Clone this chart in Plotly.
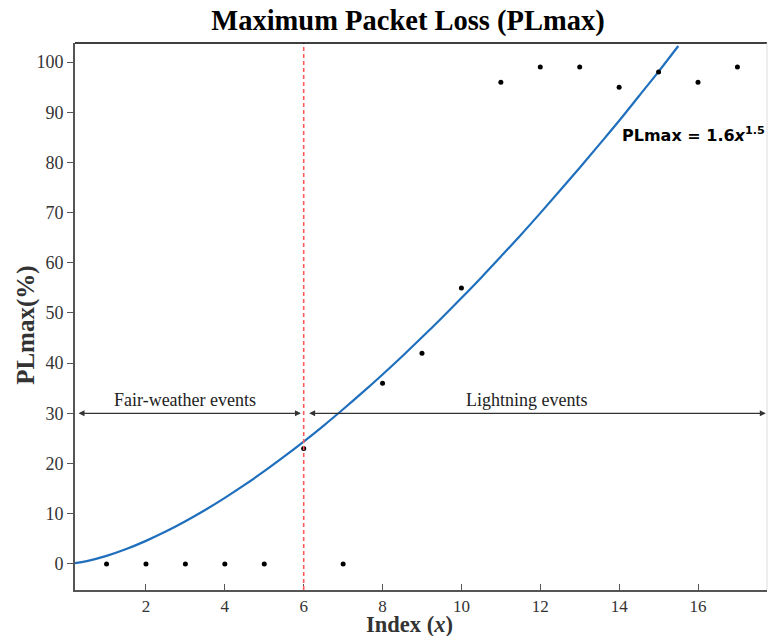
import plotly.graph_objects as go

# Measured data points
idx = [1, 2, 3, 4, 5, 6, 7, 8, 9, 10, 11, 12, 13, 14, 15, 16, 17]
plmax = [0, 0, 0, 0, 0, 23, 0, 36, 42, 55, 96, 99, 99, 95, 98, 96, 99]

# Fitted curve
fit_x = [0.2, 0.5, 1, 1.5, 2, 2.5, 3, 3.5, 4, 4.5, 5, 5.5, 6, 6.5, 7, 7.5, 8,
         8.5, 9, 9.5, 10, 10.5, 11, 11.5, 12, 12.5, 13, 13.5, 14, 14.5, 15, 15.5]
fit_y = [0.14, 0.56, 1.6, 2.96, 4.59, 6.44, 8.5, 10.74, 13.16, 15.74, 18.47,
         21.36, 24.37, 27.52, 30.82, 34.22, 37.75, 41.39, 45.15, 49.01, 52.98,
         57.04, 61.25, 65.5, 69.9, 74.4, 78.96, 83.6, 88.3, 93.2, 98.1, 103.2]

x_ticks = [2, 4, 6, 8, 10, 12, 14, 16]
y_ticks = [0, 10, 20, 30, 40, 50, 60, 70, 80, 90, 100]
boundary_x = 6
arrow_y = 30

X_RANGE = [0.2, 17.75]
Y_RANGE = [-5.2, 103.8]

fig = go.Figure()
fig.add_trace(go.Scatter(x=fit_x, y=fit_y, mode="lines", line=dict(color="#1f6fbd", width=2.2, shape="spline"),
                         showlegend=False, hoverinfo="skip", cliponaxis=True))
fig.add_trace(go.Scatter(x=idx, y=plmax, mode="markers", marker=dict(color="black", size=5),
                         showlegend=False))

fig.add_shape(type="line", x0=boundary_x, x1=boundary_x, y0=0, y1=1, xref="x", yref="paper",
              line=dict(color="#ff5a5a", width=1.6, dash="4px,3px"))

# double-headed arrows
fig.add_annotation(x=5.93, y=arrow_y, ax=0.25, ay=arrow_y, xref="x", yref="y", axref="x", ayref="y",
                   showarrow=True, arrowhead=2, arrowsize=1, arrowwidth=1.2, arrowcolor="#333333",
                   arrowside="end+start", text="")
fig.add_annotation(x=17.72, y=arrow_y, ax=6.1, ay=arrow_y, xref="x", yref="y", axref="x", ayref="y",
                   showarrow=True, arrowhead=2, arrowsize=1, arrowwidth=1.2, arrowcolor="#333333",
                   arrowside="end+start", text="")
fig.add_annotation(x=3.0, y=arrow_y, yshift=1, xref="x", yref="y", text="Fair-weather events",
                   showarrow=False, yanchor="bottom",
                   font=dict(family="Liberation Serif", size=18, color="#222222"))
fig.add_annotation(x=11.65, y=arrow_y, yshift=1, xref="x", yref="y", text="Lightning events",
                   showarrow=False, yanchor="bottom",
                   font=dict(family="Liberation Serif", size=18, color="#222222"))

fig.add_annotation(x=1.0, y=85.5, xref="paper", yref="y", xanchor="right", yanchor="middle",
                   text="<b>PLmax = 1.6<i>x</i><sup>1.5</sup></b>", showarrow=False,
                   font=dict(family="DejaVu Sans", size=16, color="black"))

# axis titles as annotations (paper coords are relative to the plot area)
fig.add_annotation(x=0.484, y=-0.063, xref="paper", yref="paper", xanchor="center", yanchor="middle",
                   text="<b>Index (<i>x</i>)</b>", showarrow=False,
                   font=dict(family="Liberation Serif", size=22.5, color="#333333"))
fig.add_annotation(x=-0.071, y=0.4845, xref="paper", yref="paper", xanchor="center", yanchor="middle",
                   text="<b>PLmax(%)</b>", showarrow=False, textangle=-90,
                   font=dict(family="Liberation Serif", size=25, color="#333333"))

fig.update_layout(
    width=769, height=636,
    margin=dict(l=75, r=2, t=43, b=46),
    paper_bgcolor="white", plot_bgcolor="white",
    title=dict(text="<b>Maximum Packet Loss (PLmax)</b>", x=408 / 769, xanchor="center", y=0.968, yanchor="middle",
               font=dict(family="Liberation Serif", size=28.5, color="black")),
    xaxis=dict(range=X_RANGE, tickvals=x_ticks, ticks="inside", ticklen=6, tickcolor="#555555",
               showgrid=False, zeroline=False, showline=True, linecolor="#555555", linewidth=2,
               mirror=False, tickfont=dict(family="Liberation Serif", size=17, color="#333333")),
    yaxis=dict(range=Y_RANGE, tickvals=y_ticks, ticks="outside", ticklen=6, tickcolor="#555555",
               showgrid=False, zeroline=False, showline=True, linecolor="#555555", linewidth=2,
               tickfont=dict(family="Liberation Serif", size=18, color="#333333")),
)
# top and right frame
fig.add_shape(type="line", xref="paper", yref="paper", x0=0, x1=1, y0=1, y1=1,
              line=dict(color="black", width=1.5))
fig.add_shape(type="line", xref="paper", yref="paper", x0=1, x1=1, y0=0, y1=1,
              line=dict(color="#dddddd", width=1))

fig.write_html("out.html")
